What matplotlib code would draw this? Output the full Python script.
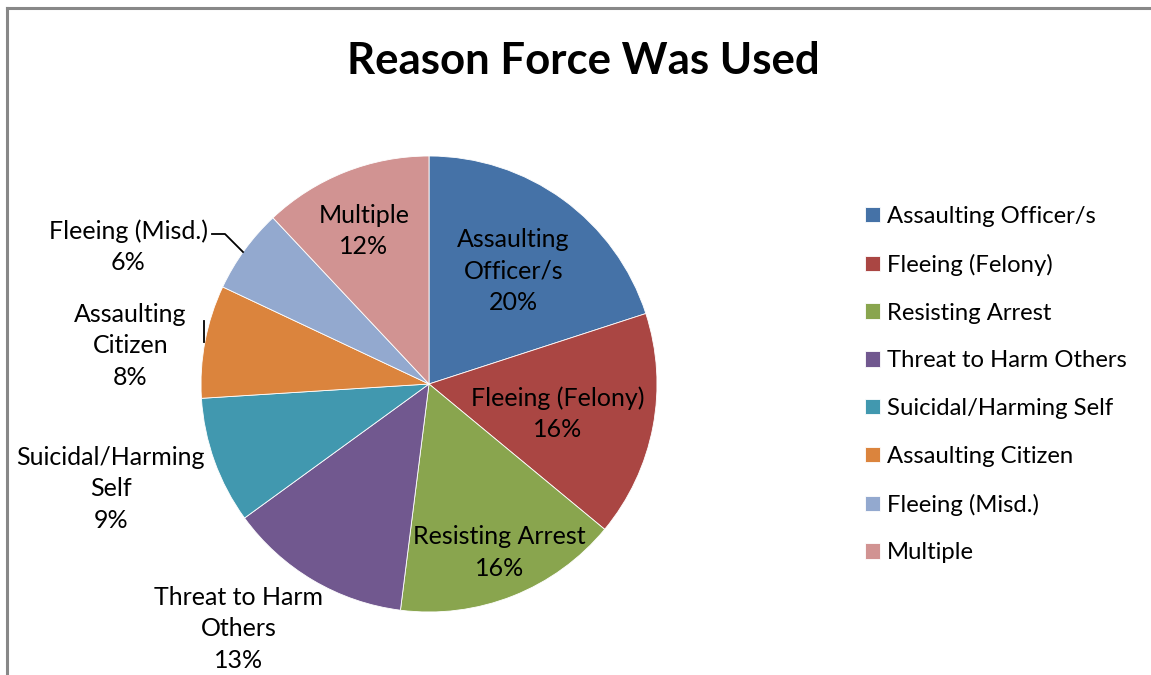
import matplotlib
matplotlib.use("Agg")
import matplotlib.pyplot as plt
import numpy as np

categories = ["Assaulting Officer/s", "Fleeing (Felony)", "Resisting Arrest",
              "Threat to Harm Others", "Suicidal/Harming Self", "Assaulting Citizen",
              "Fleeing (Misd.)", "Multiple"]
label_text = ["Assaulting\nOfficer/s", "Fleeing (Felony)", "Resisting Arrest",
              "Threat to Harm\nOthers", "Suicidal/Harming\nSelf", "Assaulting\nCitizen",
              "Fleeing (Misd.)", "Multiple"]
values = [20, 16, 16, 13, 9, 8, 6, 12]
colors = ["#4572A7", "#AA4643", "#89A54E", "#71588F", "#4198AF", "#DB843D",
          "#93A9CF", "#D19392"]
title = "Reason Force Was Used"

plt.rcParams['font.family'] = ['Lato', 'DejaVu Sans']

W, H = 1151, 675
fig = plt.figure(figsize=(W / 100, H / 100), dpi=100)
ax = fig.add_axes([0, 0, 1, 1])

# pixel mapping: pie center at (429, 384) from top, radius 228 px
cx, cy, R = 429, H - 384, 228

wedges, _ = ax.pie(values, colors=colors, startangle=90, counterclock=False,
                   radius=1, center=(0, 0), frame=True,
                   wedgeprops=dict(linewidth=0.6, edgecolor="white"))
ax.set_axis_off()
ax.set_xlim(-cx / R, (W - cx) / R)
ax.set_ylim(-cy / R, (H - cy) / R)

# label placement: (radius factor, angle offset in degrees)
label_pos = [(0.62, -0.7), (0.58, -2.2), (0.80, 1.0), (1.36, -7.3),
             (1.47, -1.6), (1.32, 3.5), (1.45, 11.5), (0.73, 1.4)]
total = sum(values)
start = 90.0
for i, v in enumerate(values):
    span = 360.0 * v / total
    mid = start - span / 2
    start -= span
    rf, dth = label_pos[i]
    a = np.deg2rad(mid + dth)
    x, y = rf * np.cos(a), rf * np.sin(a)
    ax.text(x, y, f"{label_text[i]}\n{v}%", ha="center", va="center",
            fontsize=18, linespacing=1.45, color="black")

# leader lines (pixel coords converted)
def px(xp, yp):
    return (xp - 429) / R, (384 - yp) / R

l1 = [px(212, 234), px(225, 234), px(243, 252)]
ax.plot([p[0] for p in l1], [p[1] for p in l1], color="black", lw=1.3)
l2 = [px(204, 321), px(204, 342)]
ax.plot([p[0] for p in l2], [p[1] for p in l2], color="black", lw=1.3)

fig.text(583 / W, 1 - 61 / H, title, ha="center", va="center",
         fontsize=31.5, fontweight="bold")

leg = fig.legend(wedges, categories, loc="upper left",
                 bbox_to_anchor=(865 / W, 1 - 206 / H),
                 bbox_transform=fig.transFigure, frameon=False,
                 fontsize=17.2, handlelength=0.62, handleheight=0.62,
                 handletextpad=0.3, labelspacing=1.12, borderpad=0,
                 borderaxespad=0)

# chart border (gray, left and top visible)
fig.add_artist(plt.Line2D([7.5 / W, 7.5 / W], [0, 1 - 8 / H], color="#888888",
                          lw=2.2, transform=fig.transFigure))
fig.add_artist(plt.Line2D([6.5 / W, 1], [1 - 8 / H, 1 - 8 / H], color="#888888",
                          lw=2.2, transform=fig.transFigure))

fig.savefig("out.png", dpi=100)
